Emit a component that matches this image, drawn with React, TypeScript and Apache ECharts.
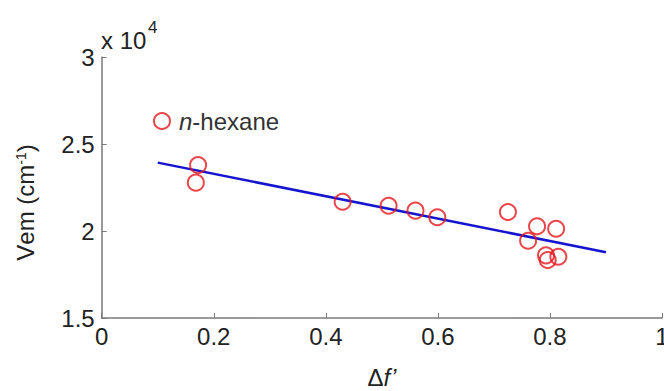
import React, { useEffect, useRef } from "react";
import * as echarts from "echarts";

const deltaF = [0.172, 0.168, 0.43, 0.512, 0.56, 0.599, 0.725, 0.777, 0.811, 0.761, 0.793, 0.815, 0.796];
const nuEm = [23790, 22780, 21680, 21450, 21170, 20790, 21090, 20270, 20130, 19440, 18600, 18520, 18330];
const fitX = [0.1, 0.9];
const fitY = [23930, 18780];
const xTicks = [0, 0.2, 0.4, 0.6, 0.8, 1];
const yTicks = [15000, 20000, 25000, 30000];

const FONT = "'Liberation Sans', Arial, sans-serif";
const RED = "#e3191e";
const BLUE = "#1515cf";
const AXIS = "#7a7a7a";

export default function App() {
  const ref = useRef<HTMLDivElement>(null);
  useEffect(() => {
    if (!ref.current) return;
    const chart = echarts.init(ref.current, null, { renderer: "svg" });
    chart.setOption({
      animation: false,
      backgroundColor: "#ffffff",
      grid: { left: 101.7, right: 2, top: 57, bottom: 73, containLabel: false, outerBoundsMode: "none" },
      legend: {
        show: true,
        data: ["n-hexane"],
        left: 153,
        top: 109,
        itemWidth: 24,
        itemHeight: 16,
        padding: 0,
        formatter: () => "{i|n}-hexane",
        textStyle: {
          fontFamily: FONT,
          fontSize: 24,
          color: "#333333",
          rich: {
            i: { fontFamily: FONT, fontSize: 24, fontStyle: "italic", color: "#333333" },
          },
        },
      },
      xAxis: {
        type: "value",
        min: xTicks[0],
        max: xTicks[xTicks.length - 1],
        interval: 0.2,
        name: "{d|Δ}{f|f’}",
        nameLocation: "middle",
        nameGap: 47,
        nameTextStyle: {
          fontFamily: FONT,
          fontSize: 24,
          lineHeight: 24,
          color: "#222",
          rich: {
            d: { fontFamily: FONT, fontSize: 24, lineHeight: 24, color: "#222" },
            f: { fontFamily: FONT, fontSize: 24, lineHeight: 24, fontStyle: "italic", color: "#222" },
          },
        },
        axisLine: { show: true, lineStyle: { color: AXIS, width: 1.5 } },
        axisTick: { show: true, inside: true, length: 5, lineStyle: { color: AXIS } },
        splitLine: { show: false },
        axisLabel: {
          fontFamily: FONT,
          fontSize: 24,
          color: "#222",
          margin: 6,
          formatter: (v: number) => String(Math.round(v * 10) / 10),
        },
      },
      yAxis: {
        type: "value",
        min: yTicks[0],
        max: yTicks[yTicks.length - 1],
        interval: 5000,
        name: "{v|V}em (cm{s|-1})",
        nameLocation: "middle",
        nameRotate: 90,
        nameGap: 64,
        nameTextStyle: {
          fontFamily: FONT,
          fontSize: 24,
          color: "#222",
          padding: [0, 30, 0, 0],
          rich: {
            v: { fontFamily: FONT, fontSize: 24, color: "#222" },
            s: { fontFamily: FONT, fontSize: 14, color: "#222", verticalAlign: "top" },
          },
        },
        axisLine: { show: true, lineStyle: { color: AXIS, width: 1.5 } },
        axisTick: { show: true, inside: true, length: 5, lineStyle: { color: AXIS } },
        splitLine: { show: false },
        axisLabel: {
          fontFamily: FONT,
          fontSize: 24,
          color: "#222",
          margin: 7,
          formatter: (v: number) => String(v / 10000),
        },
      },
      graphic: [
        {
          type: "text",
          left: 101,
          top: 28,
          style: { text: "x 10", fontFamily: FONT, fontSize: 24, fill: "#222" },
        },
        {
          type: "text",
          left: 148,
          top: 19,
          style: { text: "4", fontFamily: FONT, fontSize: 17, fill: "#222" },
        },
      ],
      series: [
        {
          type: "line",
          name: "fit",
          data: fitX.map((x, i) => [x, fitY[i]]),
          symbol: "none",
          lineStyle: { color: BLUE, width: 2.5 },
          z: 2,
        },
        {
          type: "scatter",
          name: "n-hexane",
          data: deltaF.map((x, i) => [x, nuEm[i]]),
          symbol: "circle",
          symbolSize: 16,
          itemStyle: { color: "rgba(255,255,255,0)", borderColor: RED, borderWidth: 2 },
          z: 3,
        },
      ],
    });
    return () => chart.dispose();
  }, []);
  return <div ref={ref} style={{ width: 664, height: 391, position: "absolute", left: 0, top: 0 }} />;
}
